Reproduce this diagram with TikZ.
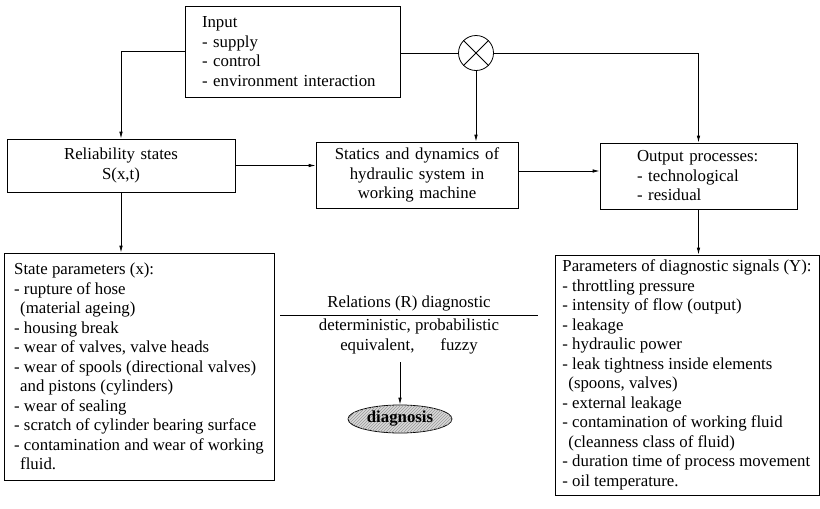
\documentclass[tikz,border=0pt]{standalone}
\usepackage{fontspec}
\setmainfont{Liberation Serif}
\usepackage{tikz}
\usetikzlibrary{shapes, calc, positioning, arrows.meta, patterns}

\begin{document}
\begin{tikzpicture}[
    x=1pt, y=-1pt,
    semithick,
    every node/.style={font=\fontsize{16.8}{19.5}\selectfont},
    ]
    \tikzstyle{block}=[draw = black, line width=0.8pt, fill = white, inner ysep=0pt]
    \tikzstyle{arr}=[line width=0.8pt, -{Latex[length=7pt,width=3.5pt]}]
    \tikzstyle{ln}=[line width=0.8pt]
    \useasboundingbox (0,0) rectangle (820,509);
    % blocks
    \node[block, minimum width=215, minimum height=91, text width=181, inner xsep=17pt, align=left] (inp) at (292.5,51.5)
        {Input\\- supply\\- control\\- environment interaction};
    \node[draw, circle, line width=0.8pt, minimum size=35, inner sep=0pt] (mix) at (476,53) {};
    \draw[ln] (mix.north west) -- (mix.south east);
    \draw[ln] (mix.north east) -- (mix.south west);
    \node[block, minimum width=228, minimum height=53, text width=208, inner xsep=10pt, align=center] (rel) at (121,165.5)
        {Reliability states\\S(x,t)};
    \node[block, minimum width=202, minimum height=66, text width=190, inner xsep=6pt, align=center] (stat) at (417,175)
        {Statics and dynamics of\\hydraulic system in\\working machine};
    \node[block, minimum width=197, minimum height=66, text width=123, inner xsep=37pt, align=left] (outp) at (698.5,176)
        {Output processes:\\- technological\\- residual};
    \node[block, minimum width=270, minimum height=227, inner xsep=4pt, align=left] (stpar) at (139,366.5)
        {State parameters (x):\\- rupture of hose\\\hspace*{6pt}(material ageing)\\- housing break\\- wear of valves, valve heads\\- wear of spools (directional valves)\\\hspace*{6pt}and pistons (cylinders)\\- wear of sealing\\- scratch of cylinder bearing surface\\- contamination and wear of working\\\hspace*{6pt}fluid.};
    \node[block, minimum width=264, minimum height=240, inner xsep=4pt, align=left] (dpar) at (687,375)
        {Parameters of diagnostic signals (Y):\\- throttling pressure\\- intensity of flow (output)\\- leakage\\- hydraulic power\\- leak tightness inside elements\\\hspace*{6pt}(spoons, valves)\\- external leakage\\- contamination of working fluid\\\hspace*{6pt}(cleanness class of fluid)\\- duration time of process movement\\- oil temperature.};
    % relations
    \coordinate (ra) at (280,315);
    \coordinate (rb) at (538,315);
    \draw[ln] (ra) -- (rb);
    \node[inner sep=0pt, anchor=south] (rhead) at ($(ra)!0.5!(rb)+(0,-4)$) {Relations (R) diagnostic};
    \node[inner sep=0pt, align=center, anchor=north] (rdesc) at (409,319)
        {deterministic, probabilistic\\equivalent,\hspace*{26pt}fuzzy};
    \node[draw, ellipse, line width=0.8pt, minimum width=104, minimum height=28, inner sep=0pt,
        fill=gray!30, postaction={pattern=north east lines, pattern color=gray!80}] (diag) at (400,419)
        {\bfseries diagnosis};
    % connectors
    \draw[arr] (inp.west) -| (rel.north);
    \draw[ln] (inp.east |- mix.west) -- (mix.west);
    \draw[arr] (mix.east) -| (outp.north);
    \draw[arr] (mix.south) -- (mix.south |- stat.north);
    \draw[arr] (rel.east) -- (rel.east -| stat.west);
    \draw[arr] (stat.east |- 0,171) -- (outp.west |- 0,171);
    \draw[arr] (outp.south) -- (outp.south |- dpar.north);
    \draw[arr] (rel.south) -- (rel.south |- stpar.north);
    \draw[arr] (diag.north |- 0,362) -- (diag.north);
\end{tikzpicture}
\end{document}
